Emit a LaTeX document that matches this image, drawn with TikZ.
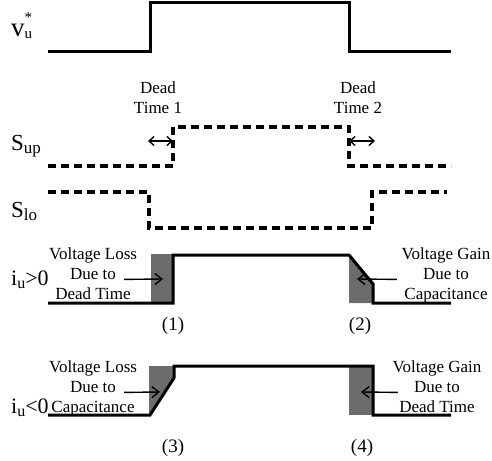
\documentclass[tikz,border=0pt]{standalone}
\usepackage{fontspec}
\setmainfont{Liberation Serif}
\usepackage{tikz}
\usetikzlibrary{arrows.meta, positioning}
\definecolor{deadgray}{RGB}{108,108,108}

\begin{document}
\begin{tikzpicture}[x=1pt, y=-1pt,
  wave/.style={line width=3pt, line join=miter},
  gate/.style={line width=3.5pt, dash pattern=on 8pt off 5pt},
  txt/.style={font=\fontsize{17}{20}\selectfont, inner sep=0pt, text height=12pt, text depth=4pt},
  num/.style={font=\fontsize{19}{22}\selectfont, inner sep=0pt, anchor=base},
  sig/.style={inner sep=0pt, anchor=base west},
  pointer/.style={line width=1.4pt, -{Straight Barb[length=7pt,width=11pt]}},
  gap/.style={line width=1.4pt, {Straight Barb[length=5pt,width=9pt]}-{Straight Barb[length=5pt,width=9pt]}}]
\useasboundingbox (0,0) rectangle (492,460);
% signal names
\node[sig] (vu) at (11,37) {\fontsize{27}{27}\selectfont v\raisebox{-2pt}{\fontsize{15}{15}\selectfont u}\llap{\raisebox{14pt}{\fontsize{15}{15}\selectfont *}}};
\node[sig] (sup) at (11,150) {\fontsize{23}{23}\selectfont S\raisebox{-3pt}{\fontsize{17}{17}\selectfont up}};
\node[sig] (slo) at (11,217) {\fontsize{23}{23}\selectfont S\raisebox{-3pt}{\fontsize{17}{17}\selectfont lo}};
\node[sig] (ipos) at (11,285) {\fontsize{22}{22}\selectfont i\raisebox{-3pt}{\fontsize{16}{16}\selectfont u}>0};
\node[sig] (ineg) at (11,413) {\fontsize{22}{22}\selectfont i\raisebox{-3pt}{\fontsize{16}{16}\selectfont u}<0};
% reference and gate signals
\draw[wave] (48,52) -- (150,52) -- (150,3) -- (349,3) -- (349,52) -- (451,52);
\draw[gate] (48,166) -- (173,166) -- (173,127) -- (349,127) -- (349,166) -- (451,166);
\draw[gate] (48,192) -- (149,192) -- (149,228) -- (372,228) -- (372,192) -- (447,192);
% output voltage, i_u>0
\fill[deadgray] (151,254) rectangle (173,303);
\fill[deadgray] (349,255) -- (373,284) -- (373,303) -- (349,303) -- cycle;
\draw[wave] (48,303) -- (173,303) -- (173,255) -- (349,255) -- (373,284) -- (373,303) -- (451,303);
% output voltage, i_u<0
\fill[deadgray] (149,366) -- (174,366) -- (174,378) -- (150,415) -- (149,415) -- cycle;
\fill[deadgray] (349,366) rectangle (373,415);
\draw[wave] (48,415) -- (150,415) -- (174,378) -- (174,366) -- (373,366) -- (373,415) -- (451,415);
% dead times
\node[txt, anchor=base] (dt1a) at (158,93) {Dead};
\node[txt, below=4pt of dt1a] (dt1b) {Time 1};
\node[txt, anchor=base] (dt2a) at (358,93) {Dead};
\node[txt, below=4pt of dt2a] (dt2b) {Time 2};
\coordinate (dt1l) at (148,141);
\coordinate (up1) at (173,141);
\coordinate (up2) at (349,141);
\coordinate (dt2r) at (375,141);
\draw[gap] (dt1l) -- (up1);
\draw[gap] (up2) -- (dt2r);
% annotations
\node[txt, anchor=base] (loss1a) at (93,259) {Voltage Loss};
\node[txt, below=4pt of loss1a] (loss1b) {Due to};
\node[txt, below=4pt of loss1b] (loss1c) {Dead Time};
\node[txt, anchor=base] (gain2a) at (446,259) {Voltage Gain};
\node[txt, below=4pt of gain2a] (gain2b) {Due to};
\node[txt, below=4pt of gain2b] (gain2c) {Capacitance};
\node[txt, anchor=base] (loss3a) at (93,372) {Voltage Loss};
\node[txt, below=4pt of loss3a] (loss3b) {Due to};
\node[txt, below=4pt of loss3b] (loss3c) {Capacitance};
\node[txt, anchor=base] (gain4a) at (437,372) {Voltage Gain};
\node[txt, below=4pt of gain4a] (gain4b) {Due to};
\node[txt, below=4pt of gain4b] (gain4c) {Dead Time};
\coordinate (hit1) at (163,279);
\coordinate (hit2) at (357,279);
\coordinate (hit3) at (160,392);
\coordinate (hit4) at (361,392);
\draw[pointer] ([xshift=8pt]loss1b.base east) -- (hit1);
\draw[pointer] ([xshift=-26pt]gain2b.base west) -- (hit2);
\draw[pointer] ([xshift=-16pt]gain4b.base west) -- (hit4);
\draw[pointer] ([xshift=8pt]loss3b.base east) -- (hit3);
% cases
\node[num] (c1) at (173,330) {(1)};
\node[num] (c2) at (360,330) {(2)};
\node[num] (c3) at (173,452) {(3)};
\node[num] (c4) at (362,452) {(4)};
\end{tikzpicture}
\end{document}
